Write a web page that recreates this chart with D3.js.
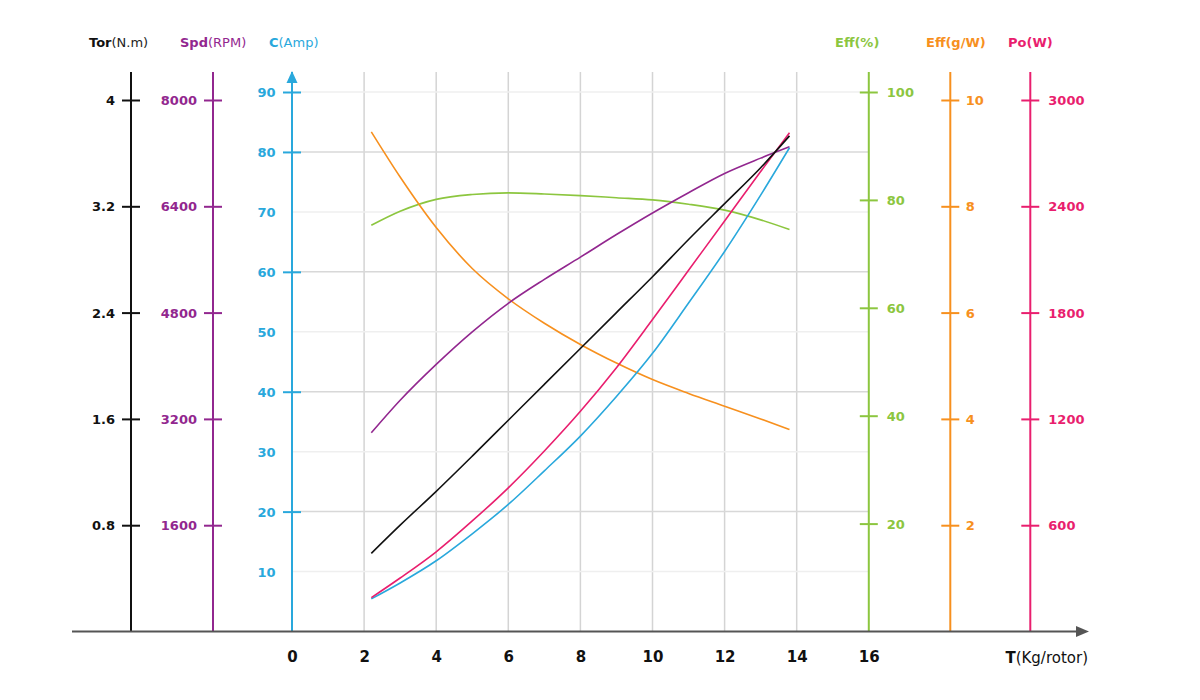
<!DOCTYPE html>
<html>
<head>
<meta charset="utf-8">
<script src="https://cdn.jsdelivr.net/npm/d3@7"></script>
<style>
  body { margin: 0; background: #fff; }
  text { font-family: "DejaVu Sans", sans-serif; }
</style>
</head>
<body>
<div id="chart"></div>
<script>
// thrust per rotor (kg) and the measured curves
const thrust  = [2.2, 3, 4, 5, 6, 7, 8, 9, 10, 11, 12, 13, 13.8];
const torque  = [0.588, 0.80, 1.055, 1.32, 1.59, 1.86, 2.13, 2.40, 2.67, 2.95, 3.22, 3.49, 3.73];
const speed   = [2990, 3480, 4020, 4510, 4940, 5300, 5635, 5975, 6300, 6605, 6895, 7125, 7295];
const current = [5.45, 8.1, 11.8, 16.3, 21.2, 26.8, 32.6, 39.2, 46.4, 54.8, 63.4, 72.8, 80.7];
const power   = [191, 302, 450, 624, 811, 1019, 1243, 1489, 1761, 2039, 2317, 2596, 2815];
const effPct  = [75.3, 77.9, 80.1, 81.0, 81.3, 81.1, 80.8, 80.4, 80.0, 79.2, 78.1, 76.3, 74.5];
const effGW   = [9.40, 8.55, 7.60, 6.83, 6.26, 5.80, 5.40, 5.05, 4.74, 4.48, 4.24, 4.00, 3.80];

const xTicks      = [0, 2, 4, 6, 8, 10, 12, 14, 16];
const torTicks    = [0.8, 1.6, 2.4, 3.2, 4];
const spdTicks    = [1600, 3200, 4800, 6400, 8000];
const cTicks      = [10, 20, 30, 40, 50, 60, 70, 80, 90];
const effPctTicks = [20, 40, 60, 80, 100];
const effGWTicks  = [2, 4, 6, 8, 10];
const poTicks     = [600, 1200, 1800, 2400, 3000];

const width = 1200;
const height = 700;
const base = 631.5;     // x axis line
const axisTop = 72;     // top end of the vertical axes

const colors = {
  tor: "#111111",
  spd: "#92278f",
  c: "#29a8dc",
  eff: "#8cc63f",
  effg: "#f7901e",
  po: "#e91e6e"
};

const svg = d3.select("#chart")
  .append("svg")
  .attr("width", width)
  .attr("height", height);

const x = d3.scaleLinear().domain([0, 16]).range([292, 868.8]);

const yTor  = d3.scaleLinear().domain([0, 4]).range([base, 100]);
const ySpd  = d3.scaleLinear().domain([0, 8000]).range([base, 100]);
const yC    = d3.scaleLinear().domain([0, 90]).range([base, 92]);
const yEff  = d3.scaleLinear().domain([0, 100]).range([base, 92]);
const yEffg = d3.scaleLinear().domain([0, 10]).range([base, 100]);
const yPo   = d3.scaleLinear().domain([0, 3000]).range([base, 100]);

// grid
svg.append("g")
  .selectAll("line")
  .data(xTicks.filter(d => d > 0 && d < 16))
  .join("line")
    .attr("x1", d => x(d)).attr("x2", d => x(d))
    .attr("y1", axisTop).attr("y2", base)
    .attr("stroke", "#d4d4d4")
    .attr("stroke-width", 1.5);

svg.append("g")
  .selectAll("line")
  .data(cTicks)
  .join("line")
    .attr("x1", x(0)).attr("x2", x(16))
    .attr("y1", d => yC(d)).attr("y2", d => yC(d))
    .attr("stroke", d => d % 20 === 0 ? "#d8d8d8" : "#efefef")
    .attr("stroke-width", 1.5);

// vertical value axes
function sideAxis(scale, ticks, xPos, color, side, fmt, pad) {
  const axis = (side === "left" ? d3.axisLeft(scale) : d3.axisRight(scale))
    .tickValues(ticks)
    .tickSize(9)
    .tickPadding(pad)
    .tickFormat(fmt);

  svg.append("line")
    .attr("x1", xPos).attr("x2", xPos)
    .attr("y1", axisTop).attr("y2", base)
    .attr("stroke", color)
    .attr("stroke-width", 2);

  const g = svg.append("g")
    .attr("transform", `translate(${xPos},0)`)
    .call(axis);
  g.select(".domain").remove();
  g.selectAll(".tick line")
    .attr("x1", -9).attr("x2", 9)
    .attr("stroke", color)
    .attr("stroke-width", 2);
  g.selectAll(".tick text")
    .attr("fill", color)
    .attr("font-family", "DejaVu Sans, sans-serif")
    .attr("font-size", 13)
    .attr("font-weight", "bold")
    .attr("dy", "0.36em");
  return g;
}

sideAxis(yTor, torTicks, 131, colors.tor, "left", d3.format(""), 7);
sideAxis(ySpd, spdTicks, 213, colors.spd, "left", d3.format("d"), 7);
const cAxis = sideAxis(yC, cTicks, x(0), colors.c, "left", d3.format("d"), 7.5);
cAxis.selectAll(".tick line").filter(d => d % 20 !== 0 && d !== 90).remove();
sideAxis(yEff, effPctTicks, x(16), colors.eff, "right", d3.format("d"), 9);
sideAxis(yEffg, effGWTicks, 950.3, colors.effg, "right", d3.format("d"), 6.5);
sideAxis(yPo, poTicks, 1030.3, colors.po, "right", d3.format("d"), 9);

// arrow on the current axis
svg.append("path")
  .attr("d", `M${x(0)},${axisTop - 1} L${x(0) - 5.5},${axisTop + 11} L${x(0) + 5.5},${axisTop + 11} Z`)
  .attr("fill", colors.c);

// axis titles
const titles = [
  { b: "Tor", n: "(N.m)", x: 89, color: colors.tor, nColor: "#222" },
  { b: "Spd", n: "(RPM)", x: 180, color: colors.spd, nColor: colors.spd },
  { b: "C", n: "(Amp)", x: 269, color: colors.c, nColor: colors.c },
  { b: "Eff(%)", n: "", x: 835, color: colors.eff, nColor: colors.eff },
  { b: "Eff(g/W)", n: "", x: 926, color: colors.effg, nColor: colors.effg },
  { b: "Po(W)", n: "", x: 1008, color: colors.po, nColor: colors.po }
];

titles.forEach(t => {
  const txt = svg.append("text")
    .attr("x", t.x)
    .attr("y", 47)
    .attr("font-size", 13);
  txt.append("tspan").attr("font-weight", "bold").attr("fill", t.color).text(t.b);
  if (t.n) txt.append("tspan").attr("fill", t.nColor).text(t.n);
});

// curves
const series = [
  { values: effPct, y: yEff, color: colors.eff },
  { values: effGW, y: yEffg, color: colors.effg },
  { values: speed, y: ySpd, color: colors.spd },
  { values: current, y: yC, color: colors.c },
  { values: power, y: yPo, color: colors.po },
  { values: torque, y: yTor, color: colors.tor }
];

series.forEach(s => {
  const line = d3.line()
    .x((d, i) => x(thrust[i]))
    .y(d => s.y(d))
    .curve(d3.curveMonotoneX);
  svg.append("path")
    .datum(s.values)
    .attr("d", line)
    .attr("fill", "none")
    .attr("stroke", s.color)
    .attr("stroke-width", 1.6);
});

// x axis with arrow
svg.append("line")
  .attr("x1", 72).attr("x2", 1078)
  .attr("y1", base).attr("y2", base)
  .attr("stroke", "#555")
  .attr("stroke-width", 2);

svg.append("path")
  .attr("d", `M1089,${base} L1076,${base - 5.5} L1076,${base + 5.5} Z`)
  .attr("fill", "#555");

const xg = svg.append("g")
  .attr("transform", `translate(0,${base})`)
  .call(d3.axisBottom(x).tickValues(xTicks).tickSize(0).tickPadding(20));
xg.select(".domain").remove();
xg.selectAll(".tick text")
  .attr("fill", "#111")
  .attr("font-family", "DejaVu Sans, sans-serif")
  .attr("font-size", 15)
  .attr("font-weight", "bold");

const xTitle = svg.append("text")
  .attr("x", 1088)
  .attr("y", 663)
  .attr("text-anchor", "end")
  .attr("font-size", 15)
  .attr("fill", "#111");
xTitle.append("tspan").attr("font-weight", "bold").text("T");
xTitle.append("tspan").text("(Kg/rotor)");
</script>
</body>
</html>
